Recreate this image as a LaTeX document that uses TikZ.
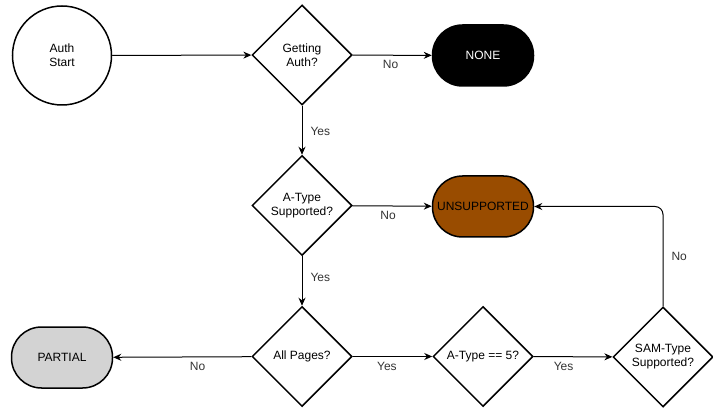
\documentclass[tikz,border=0pt]{standalone}
\usepackage{fontspec}
\setmainfont{Liberation Sans}
\usetikzlibrary{shapes.geometric,arrows.meta}
\definecolor{brownfill}{HTML}{994C00}
\definecolor{grayfill}{HTML}{D3D3D3}
\definecolor{labelgray}{HTML}{333333}
\tikzset{
  base/.style={draw=black, line width=1.5pt, font=\fontsize{12}{14}\selectfont, align=center, inner sep=0pt},
  startnode/.style={base, circle, minimum size=99pt},
  decision/.style={base, diamond, minimum width=100pt, minimum height=100pt},
  terminal/.style={base, rectangle, rounded corners=30pt, minimum width=101pt, minimum height=61pt},
  arr/.style={draw=black, line width=1pt, -{Stealth[length=8pt,width=7pt]}},
  lbl/.style={font=\fontsize{12}{14}\selectfont, text=labelgray, inner sep=2pt}
}
\begin{document}
\begin{tikzpicture}[x=1pt,y=-1pt]
\useasboundingbox (0,0) rectangle (713,409);
\node[startnode] (start) at (62,55.5) {Auth\\Start};
\node[decision] (ga) at (302,55) {Getting\\Auth?};
\node[terminal, fill=black, text=white] (none) at (483,55.5) {NONE};
\node[decision] (ats) at (302,205.5) {A-Type\\Supported?};
\node[terminal, fill=brownfill] (uns) at (483,206.5) {UNSUPPORTED};
\node[decision] (ap) at (302,356.5) {All Pages?};
\node[terminal, fill=grayfill] (partial) at (62,357.5) {PARTIAL};
\node[decision] (a5) at (483,356.5) {A-Type == 5?};
\node[decision] (sam) at (663,357) {SAM-Type\\Supported?};

\draw[arr] (start) -- (ga);
\draw[arr] (ga) -- node[lbl, pos=0.48, below=3pt] {No} (none);
\draw[arr] (ga) -- node[lbl, pos=0.52, right=6pt] {Yes} (ats);
\draw[arr] (ats) -- node[lbl, pos=0.45, below=3pt] {No} (uns);
\draw[arr] (ats) -- node[lbl, pos=0.42, right=6pt] {Yes} (ap);
\draw[arr] (ap) -- node[lbl, pos=0.39, below=3pt] {No} (partial);
\draw[arr] (ap) -- node[lbl, pos=0.43, below=3pt] {Yes} (a5);
\draw[arr] (a5) -- node[lbl, pos=0.38, below=3pt] {Yes} (sam);
\draw[arr, rounded corners=8pt] (sam.north) |- node[lbl, pos=0.25, right=6pt] {No} (uns.east);
\end{tikzpicture}
\end{document}
